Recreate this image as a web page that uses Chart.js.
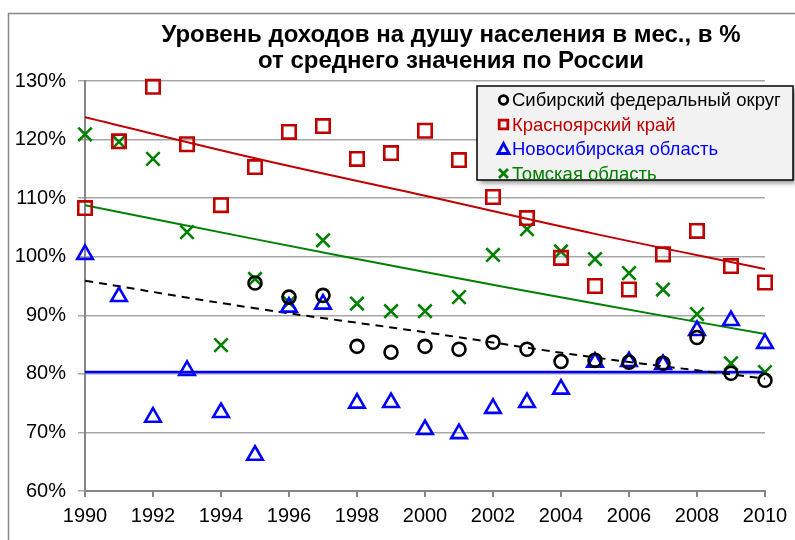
<!DOCTYPE html>
<html>
<head>
<meta charset="utf-8">
<script src="https://cdn.jsdelivr.net/npm/chart.js@4"></script>
<style>
  html, body { margin: 0; padding: 0; background: #fff; }
  #wrap { width: 795px; height: 540px; }
</style>
</head>
<body>
<div id="wrap"><canvas id="chart" width="795" height="540"></canvas></div>
<script>
// ---- data ----
const years = [1990, 1991, 1992, 1993, 1994, 1995, 1996, 1997, 1998, 1999, 2000,
               2001, 2002, 2003, 2004, 2005, 2006, 2007, 2008, 2009, 2010];

const siberia =     [null, null, null, null, null, 95.5, 93.1, 93.4, 84.7, 83.7, 84.7,
                     84.2, 85.4, 84.2, 82.1, 82.3, 82.0, 81.8, 86.2, 80.1, 78.9];
const krasnoyarsk = [108.3, 119.7, 129.0, 119.2, 108.8, 115.3, 121.3, 122.3, 116.7, 117.7, 121.5,
                     116.5, 110.2, 106.6, 99.8, 95.0, 94.4, 100.4, 104.4, 98.4, 95.6];
const novosibirsk = [100.4, 93.2, 72.6, 80.6, 73.4, 66.1, 91.4, 91.9, 75.0, 75.1, 70.5,
                     69.8, 74.1, 75.1, 77.4, 82.0, 82.1, 81.6, 87.4, 89.1, 85.2];
const tomsk =       [120.9, 119.6, 116.7, 104.2, 84.9, 96.2, 92.2, 102.8, 92.0, 90.7, 90.7,
                     93.1, 100.3, 104.7, 100.9, 99.6, 97.2, 94.4, 90.2, 81.8, 80.3];

// trend lines
const trendYears = [1990, 1995, 2000, 2005, 2010];
const siberiaTrend =     [95.9, 91.2, 87.1, 82.8, 79.2];
const krasnoyarskTrend = [123.8, 116.8, 110.4, 103.9, 97.9];
const novosibirskTrend = [80.3, 80.3, 80.3, 80.3, 80.3];
const tomskTrend =       [108.8, 103.0, 97.4, 92.0, 86.8];

const yTicks = [60, 70, 80, 90, 100, 110, 120, 130];

const titleLines = ['Уровень доходов на душу населения в мес., в %',
                    'от среднего значения по России'];

const BLACK = '#000000';
const RED = '#c00000';
const BLUE = '#0000ff';
const GREEN = '#008000';

const FONT = '"Liberation Sans", Arial, sans-serif';

const toPoints = (xs, ys) => xs.map((x, i) => ({ x, y: ys[i] })).filter(p => p.y !== null);

function pointSet(label, values, color, style, radius) {
    return {
        type: 'scatter',
        label,
        data: toPoints(years, values),
        showLine: false,
        pointStyle: style,
        pointRadius: radius,
        pointHoverRadius: radius,
        pointBorderColor: color,
        pointBackgroundColor: 'rgba(0,0,0,0)',
        pointBorderWidth: 2.6,
        clip: false
    };
}

function trendSet(values, color, width, dash) {
    return {
        type: 'line',
        label: '',
        isTrend: true,
        data: toPoints(trendYears, values),
        borderColor: color,
        borderWidth: width,
        borderDash: dash || [],
        pointRadius: 0,
        fill: false,
        tension: 0.4
    };
}

const datasets = [
    pointSet('Сибирский федеральный округ', siberia, BLACK, 'circle', 6.5),
    pointSet('Красноярский край', krasnoyarsk, RED, 'rect', 9.5),
    pointSet('Новосибирская область', novosibirsk, BLUE, 'triangle', 9),
    pointSet('Томская область', tomsk, GREEN, 'crossRot', 9.5),
    trendSet(siberiaTrend, BLACK, 2, [8, 6]),
    trendSet(krasnoyarskTrend, RED, 2),
    trendSet(novosibirskTrend, BLUE, 2.5),
    trendSet(tomskTrend, GREEN, 2)
];

// ---- frame, title and legend ----
const decorations = {
    id: 'decorations',
    beforeDraw(chart) {
        const ctx = chart.ctx;
        ctx.save();
        ctx.strokeStyle = '#888888';
        ctx.lineWidth = 1.5;
        ctx.beginPath();
        ctx.moveTo(8.5, 540);
        ctx.lineTo(8.5, 13.5);
        ctx.lineTo(795, 13.5);
        ctx.stroke();
        ctx.restore();
    },
    afterDraw(chart) {
        const ctx = chart.ctx;
        ctx.save();

        // title
        ctx.fillStyle = '#000';
        ctx.font = 'bold 24px ' + FONT;
        ctx.textAlign = 'center';
        ctx.textBaseline = 'alphabetic';
        ctx.fillText(titleLines[0], 451, 42);
        ctx.fillText(titleLines[1], 451, 68);

        // legend box
        const bx = 477, by = 86, bw = 316, bh = 94;
        ctx.save();
        ctx.shadowColor = 'rgba(0,0,0,0.45)';
        ctx.shadowBlur = 5;
        ctx.shadowOffsetX = 3;
        ctx.shadowOffsetY = 3;
        ctx.fillStyle = '#f2f2f2';
        ctx.fillRect(bx, by, bw, bh);
        ctx.restore();
        ctx.strokeStyle = '#000';
        ctx.lineWidth = 1.5;
        ctx.strokeRect(bx, by, bw, bh);

        const colors = [BLACK, RED, BLUE, GREEN];
        ctx.font = '18.5px ' + FONT;
        ctx.textAlign = 'left';
        ctx.textBaseline = 'middle';
        chart.data.datasets.filter(d => !d.isTrend).forEach((ds, i) => {
            const cy = 100 + i * 24.5;
            const mx = 503.5;
            ctx.strokeStyle = colors[i];
            ctx.lineWidth = 2.8;
            ctx.beginPath();
            if (ds.pointStyle === 'circle') {
                ctx.arc(mx, cy, 4.3, 0, Math.PI * 2);
            } else if (ds.pointStyle === 'rect') {
                ctx.rect(mx - 4.3, cy - 4.3, 8.6, 8.6);
            } else if (ds.pointStyle === 'triangle') {
                ctx.moveTo(mx, cy - 5.5);
                ctx.lineTo(mx + 5.5, cy + 4.5);
                ctx.lineTo(mx - 5.5, cy + 4.5);
                ctx.closePath();
            } else {
                ctx.moveTo(mx - 4.5, cy - 4.5);
                ctx.lineTo(mx + 4.5, cy + 4.5);
                ctx.moveTo(mx + 4.5, cy - 4.5);
                ctx.lineTo(mx - 4.5, cy + 4.5);
            }
            ctx.stroke();
            ctx.fillStyle = colors[i];
            ctx.fillText(ds.label, 512, cy + 1);
        });

        ctx.restore();
    }
};

const tickFont = { family: FONT, size: 20 };

new Chart(document.getElementById('chart'), {
    type: 'scatter',
    data: { datasets },
    options: {
        responsive: false,
        animation: false,
        layout: { padding: { top: 81, right: 30, left: 0, bottom: 0 } },
        plugins: {
            legend: { display: false },
            title: { display: false },
            tooltip: { enabled: false }
        },
        scales: {
            x: {
                type: 'linear',
                min: 1990,
                max: 2010,
                afterFit: s => { s.height = 49; },
                ticks: {
                    stepSize: 2,
                    color: '#000',
                    font: tickFont,
                    padding: 7,
                    maxRotation: 0,
                    callback: v => String(v)
                },
                grid: { drawOnChartArea: false, drawTicks: true, tickLength: 6, color: '#868686', lineWidth: 2 },
                border: { color: '#868686', width: 2 }
            },
            y: {
                min: 60,
                max: 130,
                afterFit: s => { s.width = 85; },
                afterBuildTicks: s => { s.ticks = yTicks.map(v => ({ value: v })); },
                ticks: {
                    color: '#000',
                    font: tickFont,
                    padding: 12,
                    callback: v => v + '%'
                },
                grid: { color: '#a6a6a6', lineWidth: 1.5, tickLength: 7 },
                border: { color: '#868686', width: 2 }
            }
        }
    },
    plugins: [decorations]
});
</script>
</body>
</html>
